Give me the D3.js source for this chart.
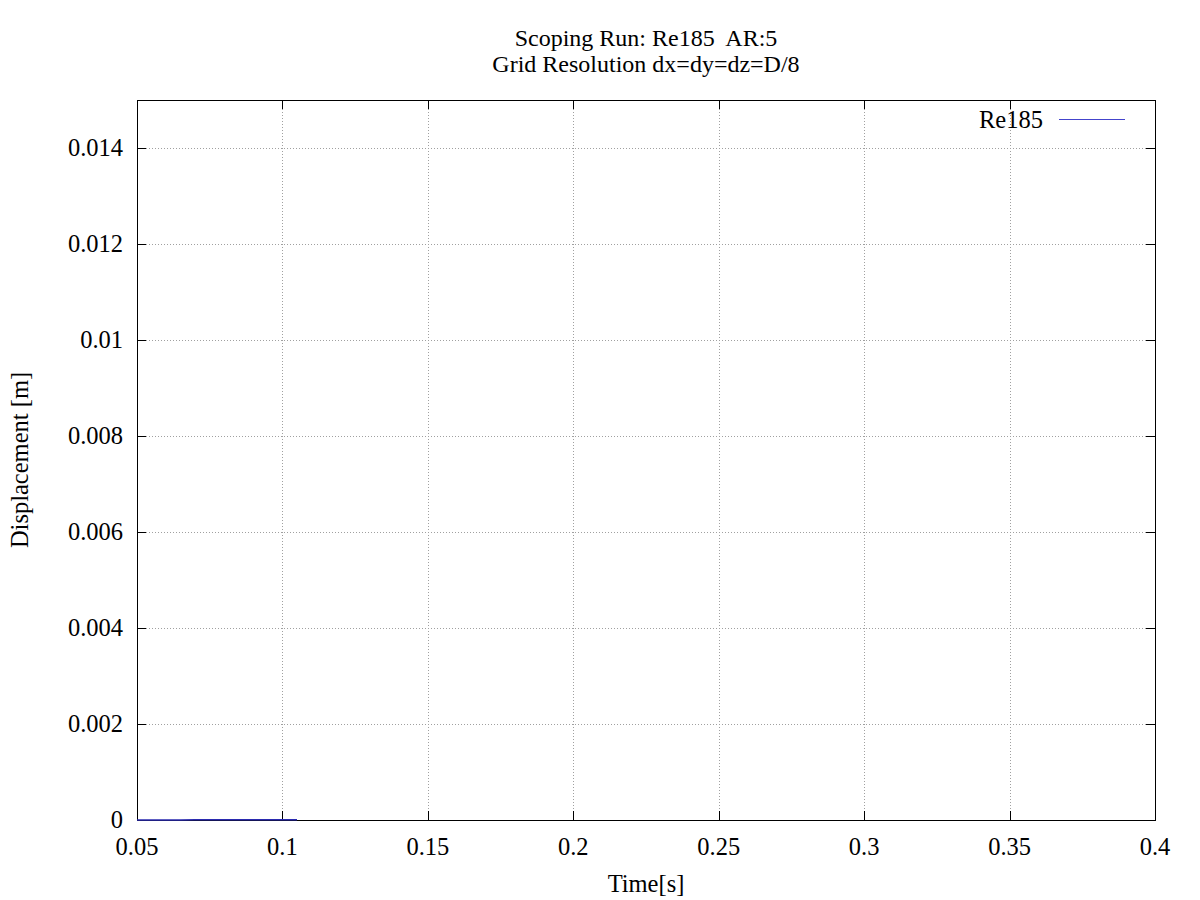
<!DOCTYPE html>
<html><head><meta charset="utf-8">
<script src="https://cdn.jsdelivr.net/npm/d3@7"></script>
<style>body{margin:0;background:#fff}svg{display:block}text{font-family:"Liberation Serif","Times New Roman",serif;fill:#000;white-space:pre}</style>
</head><body>
<script>
const titleLines = ["Scoping Run: Re185  AR:5", "Grid Resolution dx=dy=dz=D/8"];
const seriesName = "Re185";
const time = [0.050, 0.055, 0.060, 0.065, 0.070, 0.075, 0.080, 0.085, 0.090, 0.095, 0.100, 0.105];
const displacement = [0.0, 0.000001, 0.000002, 0.000002, 0.000003, 0.000003, 0.000004, 0.000004, 0.000005, 0.000005, 0.000006, 0.000006];
const xTicks = [0.05, 0.1, 0.15, 0.2, 0.25, 0.3, 0.35, 0.4];
const yTicks = [0, 0.002, 0.004, 0.006, 0.008, 0.01, 0.012, 0.014];

const W = 1200, H = 900;
const m = {l:137, r:1155, t:100, b:820};
const FS = 24.5;
const svg = d3.select("body").append("svg").attr("width", W).attr("height", H);
const x = d3.scaleLinear().domain([0.05, 0.4]).range([m.l, m.r]);
const y = d3.scaleLinear().domain([0, 0.015]).range([m.b, m.t]);
const fmt = d => d === 0 ? "0" : String(+d.toFixed(4));

// grid
const g = svg.append("g").attr("stroke", "#a0a0a0").attr("stroke-width", 1).attr("stroke-dasharray", "1,2");
xTicks.forEach(t => { const px = Math.round(x(t)) + 0.5; if (t > 0.05 && t < 0.4) g.append("line").attr("x1", px).attr("x2", px).attr("y1", m.t).attr("y2", m.b); });
yTicks.forEach(t => { const py = Math.round(y(t)) + 0.5; if (t > 0) g.append("line").attr("x1", m.l).attr("x2", m.r).attr("y1", py).attr("y2", py); });

// axes with inward ticks
const tk = 9;
const ax = svg.append("g").attr("stroke", "#000").attr("stroke-width", 1);
xTicks.forEach(t => { const px = Math.round(x(t)) + 0.5;
  ax.append("line").attr("x1", px).attr("x2", px).attr("y1", m.b).attr("y2", m.b - tk);
  ax.append("line").attr("x1", px).attr("x2", px).attr("y1", m.t).attr("y2", m.t + tk); });
yTicks.forEach(t => { const py = Math.round(y(t)) + 0.5;
  ax.append("line").attr("x1", m.l).attr("x2", m.l + tk).attr("y1", py).attr("y2", py);
  ax.append("line").attr("x1", m.r).attr("x2", m.r - tk).attr("y1", py).attr("y2", py); });

svg.append("g").selectAll("text").data(xTicks).join("text")
  .attr("x", d => x(d)).attr("y", 855).attr("text-anchor", "middle").attr("font-size", FS).text(fmt);
svg.append("g").selectAll("text").data(yTicks).join("text")
  .attr("x", 123).attr("y", d => y(d) + 8).attr("text-anchor", "end").attr("font-size", FS).text(fmt);

// border
svg.append("rect").attr("x", m.l + 0.5).attr("y", m.t + 0.5).attr("width", m.r - m.l).attr("height", m.b - m.t)
  .attr("fill", "none").attr("stroke", "#000").attr("stroke-width", 1);

// line
const line = d3.line().x((d, i) => x(time[i])).y(d => y(d));
svg.append("path").datum(displacement).attr("d", line).attr("fill", "none").attr("stroke", "#2a2ab0").attr("stroke-width", 1.5);

// legend
svg.append("text").attr("x", 1043).attr("y", 128).attr("text-anchor", "end").attr("font-size", FS).text(seriesName);
svg.append("line").attr("x1", 1059).attr("x2", 1125).attr("y1", 119.5).attr("y2", 119.5).attr("stroke", "#4444cc").attr("stroke-width", 1.2);

// titles
svg.append("text").attr("x", 646).attr("y", 46).attr("text-anchor", "middle").attr("font-size", 24).text(titleLines[0]);
svg.append("text").attr("x", 646).attr("y", 72).attr("text-anchor", "middle").attr("font-size", 24).text(titleLines[1]);
svg.append("text").attr("x", 646).attr("y", 892).attr("text-anchor", "middle").attr("font-size", FS).text("Time[s]");
svg.append("text").attr("transform", "translate(28,460) rotate(-90)").attr("text-anchor", "middle").attr("font-size", FS).text("Displacement [m]");
</script>
</body></html>
